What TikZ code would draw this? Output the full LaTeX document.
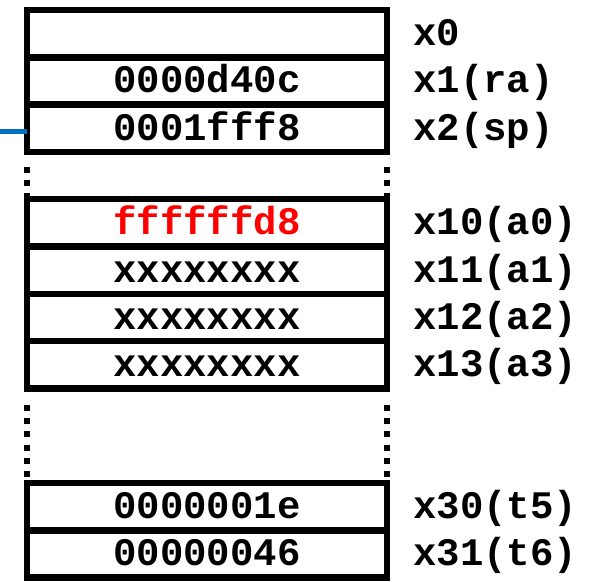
\documentclass[tikz,border=0pt]{standalone}
\usepackage{fontspec}
\setmonofont{Liberation Mono}
\usetikzlibrary{positioning}
\definecolor{spblue}{RGB}{0,112,192}
\definecolor{valred}{RGB}{255,0,0}

\begin{document}
\begin{tikzpicture}[
    x=1pt, y=-1pt,
    font=\fontsize{39}{39}\selectfont\ttfamily\bfseries,
    reg/.style={draw, line width=6.5pt, outer sep=0pt, inner sep=0pt,
                minimum width=360pt, minimum height=47.3pt,
                text height=24pt, text depth=0pt},
    regname/.style={inner sep=0pt, text height=24pt, text depth=0pt},
    dotline/.style={line width=6.5pt, dash pattern=on 6pt off 7.2pt},
    arr/.style={line width=5pt, spblue}
  ]
  \useasboundingbox (0,0) rectangle (596,581);
  % register file
  \node[reg] (r0) at (207,33.65) {};
  \node[reg, below=0pt of r0] (r1) {0000d40c};
  \node[reg, below=0pt of r1] (r2) {0001fff8};
  \node[reg, text=valred, below=47.3pt of r2] (r10) {ffffffd8};
  \node[reg, below=0pt of r10] (r11) {xxxxxxxx};
  \node[reg, below=0pt of r11] (r12) {xxxxxxxx};
  \node[reg, below=0pt of r12] (r13) {xxxxxxxx};
  \node[reg, below=94.6pt of r13] (r30) {0000001e};
  \node[reg, below=0pt of r30] (r31) {00000046};
  % register names
  \node[regname, right=26pt of r0] (l0) {x0};
  \node[regname, right=26pt of r1] (l1) {x1(ra)};
  \node[regname, right=26pt of r2] (l2) {x2(sp)};
  \node[regname, right=26pt of r10] (l10) {x10(a0)};
  \node[regname, right=26pt of r11] (l11) {x11(a1)};
  \node[regname, right=26pt of r12] (l12) {x12(a2)};
  \node[regname, right=26pt of r13] (l13) {x13(a3)};
  \node[regname, right=26pt of r30] (l30) {x30(t5)};
  \node[regname, right=26pt of r31] (l31) {x31(t6)};
  % skipped registers
  \draw[dotline, shorten <=15pt] (r2.south west) -- (r10.north west);
  \draw[dotline, shorten <=15pt] (r2.south east) -- (r10.north east);
  \draw[dotline, shorten <=16.5pt] (r13.south west) -- (r30.north west);
  \draw[dotline, shorten <=16.5pt] (r13.south east) -- (r30.north east);
  % stack pointer
  \coordinate (sp) at (0,131);
  \draw[arr] (sp) -- (sp -| r2.west);
\end{tikzpicture}
\end{document}
